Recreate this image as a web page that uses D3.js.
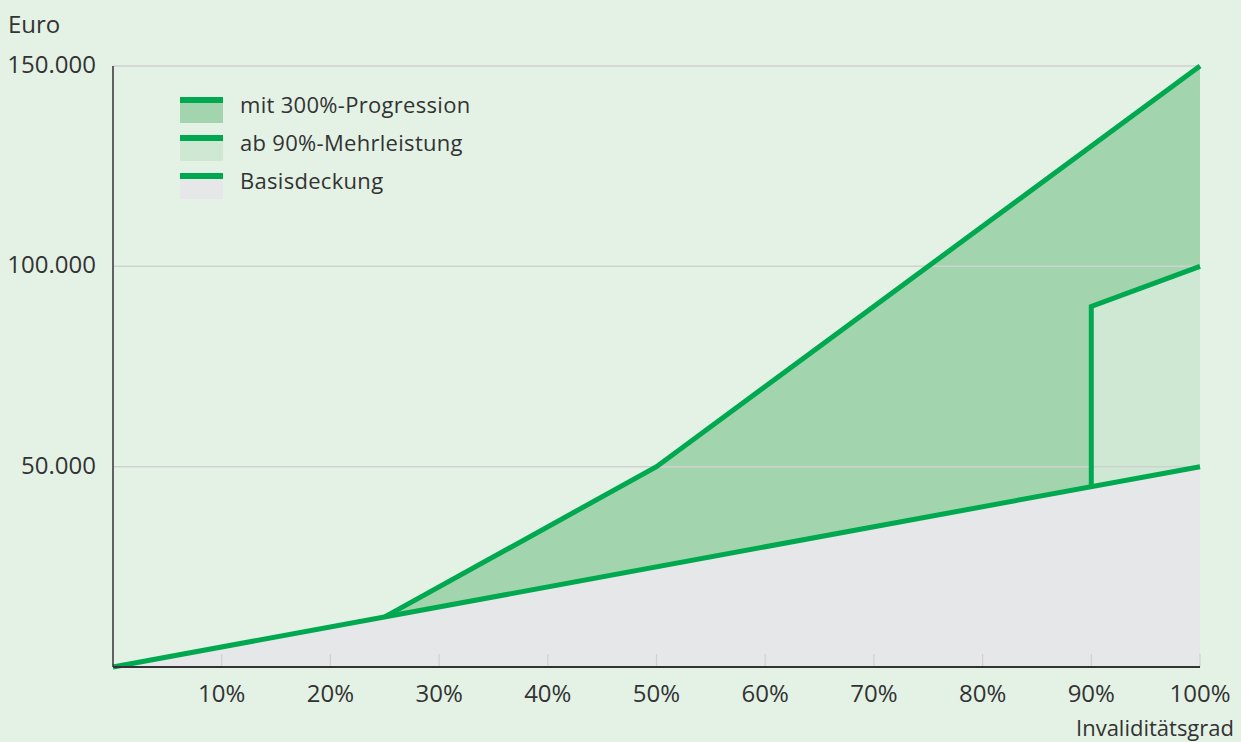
<!DOCTYPE html>
<html>
<head>
<meta charset="utf-8">
<script src="https://cdn.jsdelivr.net/npm/d3@7"></script>
<style>
  html, body { margin: 0; padding: 0; background: #e4f2e6; }
  svg { display: block; font-family: "Open Sans", "Noto Sans", sans-serif; }
</style>
</head>
<body>
<div id="chart"></div>
<script>
// Daten
const basisPct = [0, 100];
const basisVal = [0, 50000];
const progPct = [25, 50, 100];
const progVal = [12500, 50000, 150000];
const mehrPct = [90, 90, 100];
const mehrVal = [45000, 90000, 100000];
const yTicks = [50000, 100000, 150000];
const xTicks = [10, 20, 30, 40, 50, 60, 70, 80, 90, 100];
const legendLabels = ['mit 300%-Progression', 'ab 90%-Mehrleistung', 'Basisdeckung'];
const legendFills = ['#a2d5ae', '#cfe8d4', '#e6e7e9'];

const W = 1241, H = 742;
const margin = { top: 66, right: 41, bottom: 75, left: 113 };
const width = W - margin.left - margin.right;
const height = H - margin.top - margin.bottom;
const green = '#00a84f';
const textCol = '#333333';

const svg = d3.select('#chart').append('svg')
  .attr('width', W).attr('height', H);
const g = svg.append('g')
  .attr('transform', `translate(${margin.left},${margin.top})`);

const x = d3.scaleLinear().domain([0, 100]).range([0, width]);
const y = d3.scaleLinear().domain([0, 150000]).range([height, 0]);

// Basiswert bei p% (lineare Basis)
const basisAt = p => d3.scaleLinear().domain(basisPct).range(basisVal)(p);

const toPts = (pcts, vals) => pcts.map((p, i) => ({ p: p, v: vals[i] }));
const basis = toPts(basisPct, basisVal);
const prog = toPts(progPct, progVal);
const mehr = toPts(mehrPct, mehrVal);

const area = d3.area()
  .x(d => x(d.p))
  .y0(d => y(basisAt(d.p)))
  .y1(d => y(d.v));

// Basisdeckung Fläche
g.append('path')
  .datum(basis)
  .attr('fill', legendFills[2])
  .attr('d', d3.area().x(d => x(d.p)).y0(height).y1(d => y(d.v)));

// Progression Fläche
g.append('path')
  .datum(prog)
  .attr('fill', legendFills[0])
  .attr('d', area);

// Mehrleistung Fläche (ab 90%)
g.append('path')
  .datum(mehr.slice(1))
  .attr('fill', legendFills[1])
  .attr('d', area);

// Gitterlinien
g.selectAll('.grid')
  .data(yTicks)
  .enter().append('line')
  .attr('x1', 0).attr('x2', width)
  .attr('y1', d => y(d)).attr('y2', d => y(d))
  .attr('stroke', '#cfd1d1')
  .attr('stroke-width', 1.5);

// kleine Teilstriche
g.selectAll('.xtick')
  .data(xTicks)
  .enter().append('line')
  .attr('x1', d => x(d)).attr('x2', d => x(d))
  .attr('y1', height - 13).attr('y2', height)
  .attr('stroke', '#cfd1d1')
  .attr('stroke-width', 1.2);

// Linien
const line = d3.line().x(d => x(d.p)).y(d => y(d.v));
[basis, prog, mehr].forEach(data => {
  g.append('path')
    .datum(data)
    .attr('fill', 'none')
    .attr('stroke', green)
    .attr('stroke-width', 5)
    .attr('stroke-linejoin', 'miter')
    .attr('d', line);
});

// Achsen
g.append('line')
  .attr('x1', 0).attr('x2', 0)
  .attr('y1', y(150000)).attr('y2', height)
  .attr('stroke', textCol).attr('stroke-width', 1.5);
g.append('line')
  .attr('x1', 0).attr('x2', width)
  .attr('y1', height).attr('y2', height)
  .attr('stroke', textCol).attr('stroke-width', 2);

// Achsenbeschriftungen
const fmt = d3.formatLocale({ decimal: ',', thousands: '.', grouping: [3], currency: ['', ' €'] }).format(',');
g.selectAll('.ylab')
  .data(yTicks)
  .enter().append('text')
  .attr('x', -17)
  .attr('y', d => y(d) + 7)
  .attr('text-anchor', 'end')
  .attr('font-size', 24)
  .attr('fill', textCol)
  .text(d => fmt(d));

g.selectAll('.xlab')
  .data(xTicks)
  .enter().append('text')
  .attr('x', d => x(d))
  .attr('y', height + 35)
  .attr('text-anchor', 'middle')
  .attr('font-size', 24)
  .attr('fill', textCol)
  .text(d => d + '%');

svg.append('text')
  .attr('x', 8).attr('y', 33)
  .attr('font-size', 24)
  .attr('fill', textCol)
  .text('Euro');

svg.append('text')
  .attr('x', 1234).attr('y', 736)
  .attr('text-anchor', 'end')
  .attr('font-size', 22)
  .attr('fill', textCol)
  .text('Invaliditätsgrad');

// Legende
const legend = svg.append('g').attr('transform', 'translate(180,97)');
const items = legend.selectAll('g')
  .data(legendLabels)
  .enter().append('g')
  .attr('transform', (d, i) => `translate(0,${i * 38})`);
items.append('rect')
  .attr('width', 43).attr('height', 26)
  .attr('fill', (d, i) => legendFills[i]);
items.append('rect')
  .attr('width', 43).attr('height', 6)
  .attr('fill', green);
items.append('text')
  .attr('x', 60).attr('y', 16)
  .attr('font-size', 22)
  .attr('letter-spacing', 0.3)
  .attr('fill', textCol)
  .text(d => d);
</script>
</body>
</html>
